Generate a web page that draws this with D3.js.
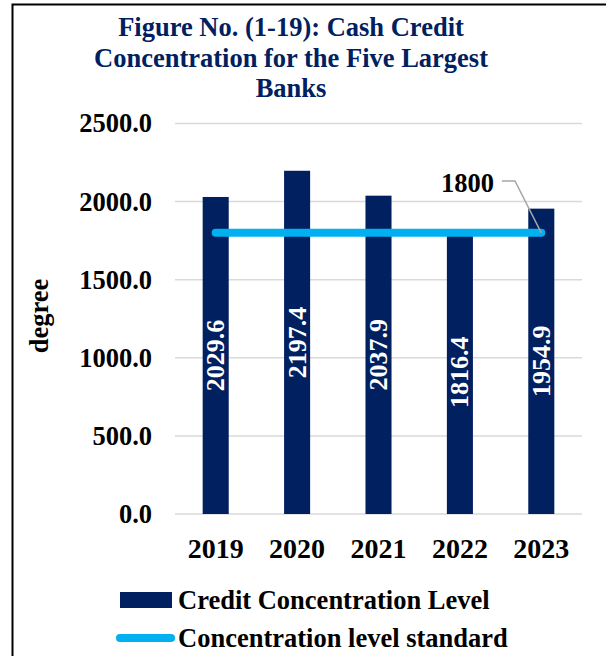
<!DOCTYPE html>
<html>
<head>
<meta charset="utf-8">
<script src="https://cdn.jsdelivr.net/npm/d3@7"></script>
<style>
  html, body { margin: 0; padding: 0; background: #fff; }
  svg { display: block; font-family: "Liberation Serif", "Times New Roman", serif; }
</style>
</head>
<body>
<svg id="chart" width="606" height="656"></svg>
<script>
// Cash credit concentration for the five largest banks
const years = ["2019", "2020", "2021", "2022", "2023"];
const creditConcentration = [2029.6, 2197.4, 2037.9, 1816.4, 1954.9];
const standardLevel = 1800;
const yTicks = [0, 500, 1000, 1500, 2000, 2500];
const titleLines = ["Figure No. (1-19): Cash Credit", "Concentration for the Five Largest", "Banks"];
const legendLabels = ["Credit Concentration Level", "Concentration level standard"];

const navy = "#002060";
const cyan = "#00B0F0";
const grid = "#D9D9D9";

const svg = d3.select("#chart");

// frame
svg.append("path")
  .attr("d", "M12.5,656 L12.5,4.5 L606,4.5")
  .attr("fill", "none").attr("stroke", "#000").attr("stroke-width", 2);

// title
svg.append("g").selectAll("text").data(titleLines).join("text")
  .attr("x", 291).attr("y", (d, i) => 36 + i * 30.5)
  .attr("text-anchor", "middle")
  .attr("fill", navy).attr("font-weight", "bold").attr("font-size", 26.5)
  .text(d => d);

const x = d3.scaleBand().domain(years).range([175, 582])
  .paddingInner(0.68).paddingOuter(0.34);
const y = d3.scaleLinear().domain([0, 2500]).range([514, 123.5]);

// gridlines
svg.append("g").selectAll("line").data(yTicks).join("line")
  .attr("x1", 175).attr("x2", 582)
  .attr("y1", d => y(d)).attr("y2", d => y(d))
  .attr("stroke", grid).attr("stroke-width", 1.5);

// y axis labels
const yAxis = d3.axisLeft(y).tickValues(yTicks).tickFormat(d3.format(".1f")).tickSize(0).tickPadding(0);
const ya = svg.append("g").attr("transform", "translate(152,0)").call(yAxis);
ya.select(".domain").remove();
ya.selectAll("text")
  .attr("font-family", "Liberation Serif, Times New Roman, serif")
  .attr("font-size", 26.5).attr("font-weight", "bold").attr("fill", "#000");

// y axis title
svg.append("text")
  .attr("transform", "translate(39,316) rotate(-90)")
  .attr("text-anchor", "middle").attr("dominant-baseline", "central")
  .attr("font-size", 26.5).attr("font-weight", "bold").attr("fill", "#000")
  .text("degree");

// x axis labels
const xAxis = d3.axisBottom(x).tickSize(0).tickPadding(0);
const xa = svg.append("g").attr("transform", "translate(0,538)").call(xAxis);
xa.select(".domain").remove();
xa.selectAll("text")
  .attr("font-family", "Liberation Serif, Times New Roman, serif")
  .attr("font-size", 28).attr("font-weight", "bold").attr("fill", "#000")
  .attr("dy", "0.71em");

// bars
svg.append("g").selectAll("rect").data(years).join("rect")
  .attr("x", d => x(d)).attr("width", x.bandwidth())
  .attr("y", (d, i) => y(creditConcentration[i]))
  .attr("height", (d, i) => y(0) - y(creditConcentration[i]))
  .attr("fill", navy);

// bar value labels, rotated, centered in bar
svg.append("g").selectAll("text").data(years).join("text")
  .attr("transform", (d, i) => {
    const cx = x(d) + x.bandwidth() / 2;
    const cy = (y(0) + y(creditConcentration[i])) / 2;
    return `translate(${cx},${cy}) rotate(-90)`;
  })
  .attr("text-anchor", "middle").attr("dominant-baseline", "central")
  .attr("fill", "#fff").attr("font-weight", "bold").attr("font-size", 26)
  .text((d, i) => creditConcentration[i].toFixed(1));

// standard line
const xFirst = x(years[0]) + x.bandwidth() / 2;
const xLast = x(years[years.length - 1]) + x.bandwidth() / 2;
svg.append("line")
  .attr("x1", xFirst).attr("x2", xLast)
  .attr("y1", y(standardLevel)).attr("y2", y(standardLevel))
  .attr("stroke", cyan).attr("stroke-width", 8).attr("stroke-linecap", "round");

// standard label with leader
svg.append("path")
  .attr("d", `M502,181 L515,181 L${xLast},${y(standardLevel)}`)
  .attr("fill", "none").attr("stroke", "#A6A6A6").attr("stroke-width", 1.5);
svg.append("text")
  .attr("x", 494).attr("y", 192).attr("text-anchor", "end")
  .attr("font-size", 26.5).attr("font-weight", "bold").attr("fill", "#000")
  .text(String(standardLevel));

// legend
const lg = svg.append("g");
lg.append("rect").attr("x", 120).attr("y", 592).attr("width", 52).attr("height", 16).attr("fill", navy);
lg.append("line").attr("x1", 120).attr("x2", 171).attr("y1", 638).attr("y2", 638)
  .attr("stroke", cyan).attr("stroke-width", 8).attr("stroke-linecap", "round");
lg.selectAll("text").data(legendLabels).join("text")
  .attr("x", 178).attr("y", (d, i) => 600 + i * 38)
  .attr("dominant-baseline", "central")
  .attr("font-size", 26.5).attr("font-weight", "bold").attr("fill", "#000")
  .text(d => d);
</script>
</body>
</html>
